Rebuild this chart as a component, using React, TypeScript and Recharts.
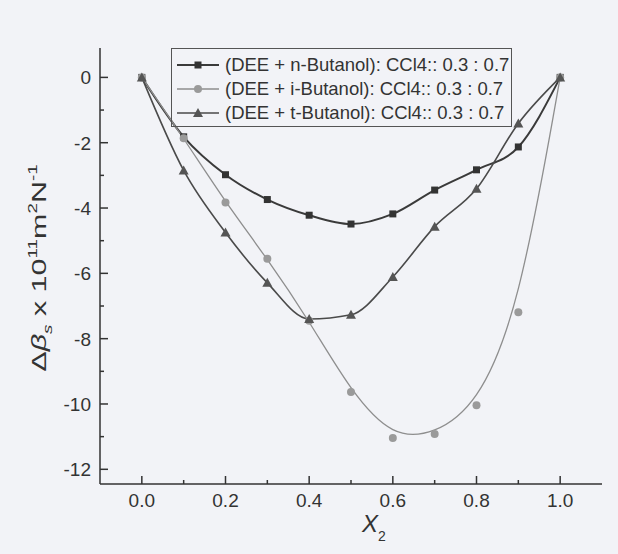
import { LineChart, Line, XAxis, YAxis, Legend } from "recharts";

const x2 = [0, 0.1, 0.2, 0.3, 0.4, 0.5, 0.6, 0.7, 0.8, 0.9, 1.0];
const nButanol = [0, -1.82, -2.98, -3.74, -4.22, -4.49, -4.18, -3.45, -2.83, -2.13, 0];
const iButanol = [0, -1.86, -3.83, -5.55, -7.45, -9.63, -11.04, -10.92, -10.04, -7.19, 0];
const tButanol = [0, -2.85, -4.75, -6.29, -7.4, -7.27, -6.11, -4.57, -3.41, -1.41, 0];

const xTicks = [0, 0.1, 0.2, 0.3, 0.4, 0.5, 0.6, 0.7, 0.8, 0.9, 1.0];
const yTicks = [0, -1, -2, -3, -4, -5, -6, -7, -8, -9, -10, -11, -12];
const legendLabel = ": CCl4:: 0.3 : 0.7";

const rows = x2.map((x, i) => ({ x, n: nButanol[i], i: iButanol[i], t: tButanol[i] }));

const ink = "#333";
const font = "'Liberation Sans', Arial, sans-serif";

const xMajor = (v: number) => Math.round(v * 10) % 2 === 0;
const yMajor = (v: number) => Math.round(v) % 2 === 0;

const BottomTick = ({ x, y, payload }: any) => {
  const major = xMajor(payload.value);
  return (
    <g>
      <line x1={x} x2={x} y1={y} y2={y - (major ? 8 : 4)} stroke={ink} strokeWidth={1.5} />
      {major && (
        <text x={x} y={y + 23} textAnchor="middle" fontSize={19} fill={ink} fontFamily={font}>
          {payload.value.toFixed(1)}
        </text>
      )}
    </g>
  );
};

const TopTick = ({ x, y, payload }: any) => (
  <line x1={x} x2={x} y1={y} y2={y + (xMajor(payload.value) ? 8 : 4)} stroke={ink} strokeWidth={1.5} />
);

const LeftTick = ({ x, y, payload }: any) => {
  const major = yMajor(payload.value);
  return (
    <g>
      <line x1={x} x2={x + (major ? 8 : 4)} y1={y} y2={y} stroke={ink} strokeWidth={1.5} />
      {major && (
        <text x={x - 9} y={y + 7} textAnchor="end" fontSize={19} fill={ink} fontFamily={font}>
          {String(payload.value)}
        </text>
      )}
    </g>
  );
};

const RightTick = ({ x, y, payload }: any) => (
  <line x1={x} x2={x - (yMajor(payload.value) ? 8 : 4)} y1={y} y2={y} stroke={ink} strokeWidth={1.5} />
);

const square = (fill: string) => (p: any) =>
  p.cx == null ? <g key={p.key} /> : <rect key={p.key} x={p.cx - 3.5} y={p.cy - 3.5} width={7} height={7} fill={fill} />;
const circle = (fill: string) => (p: any) =>
  p.cx == null ? <g key={p.key} /> : <circle key={p.key} cx={p.cx} cy={p.cy} r={4} fill={fill} />;
const triangle = (fill: string) => (p: any) =>
  p.cx == null ? (
    <g key={p.key} />
  ) : (
    <polygon key={p.key} points={`${p.cx},${p.cy - 5} ${p.cx - 5},${p.cy + 4} ${p.cx + 5},${p.cy + 4}`} fill={fill} />
  );

const series = [
  { key: "n", name: "(DEE + n-Butanol)", line: "#3a3a3a", mark: "#333", width: 2, type: "monotone", dot: square("#333"), shape: "square" },
  { key: "i", name: "(DEE + i-Butanol)", line: "#8e8e8e", mark: "#9a9a9a", width: 1.3, type: "basis", dot: circle("#9a9a9a"), shape: "circle" },
  { key: "t", name: "(DEE + t-Butanol)", line: "#4a4a4a", mark: "#555", width: 1.6, type: "monotone", dot: triangle("#555"), shape: "triangle" },
];

const LegendBox = () => (
  <div
    style={{
      border: "1px solid #555",
      width: 341,
      height: 79,
      paddingTop: 4,
      boxSizing: "border-box",
      fontFamily: font,
      fontSize: 18.5,
      color: ink,
    }}
  >
    {series.map((s) => (
      <div key={s.key} style={{ height: 24, display: "flex", alignItems: "center" }}>
        <svg width={53} height={24}>
          <line x1={5} x2={47} y1={12} y2={12} stroke={s.line} strokeWidth={s.width} />
          {s.shape === "square" && <rect x={22.5} y={8.5} width={7} height={7} fill={s.mark} />}
          {s.shape === "circle" && <circle cx={26} cy={12} r={4} fill={s.mark} />}
          {s.shape === "triangle" && <polygon points="26,7 21,16 31,16" fill={s.mark} />}
        </svg>
        <span style={{ whiteSpace: "nowrap" }}>
          {s.name}
          {legendLabel}
        </span>
      </div>
    ))}
  </div>
);

const YTitle = () => (
  <text
    transform="translate(46,268) rotate(-90) scale(1.45,1)"
    textAnchor="middle"
    fontSize={21}
    fill={ink}
    fontFamily={font}
  >
    Δ<tspan fontStyle="italic">β</tspan>
    <tspan fontSize={13} fontStyle="italic" dy={6}>s</tspan>
    <tspan dy={-6}> x 10</tspan>
    <tspan fontSize={13} dy={-9}>11</tspan>
    <tspan dy={9}>m</tspan>
    <tspan fontSize={13} dy={-9}>2</tspan>
    <tspan dy={9}>N</tspan>
    <tspan fontSize={13} dy={-9}>-1</tspan>
  </text>
);

const XTitle = () => (
  <text x={362} y={532} fontSize={24} fill={ink} fontFamily={font}>
    <tspan fontStyle="italic">X</tspan>
    <tspan fontSize={14} dy={9}>2</tspan>
  </text>
);

export default function App() {
  return (
    <div style={{ position: "absolute", left: 0, top: 0, width: 618, height: 554, background: "#f2f3f7" }}>
      <LineChart
        width={618}
        height={554}
        data={rows}
        margin={{ top: 48, right: 16, bottom: 0, left: 0 }}
        style={{ fontFamily: font }}
      >
        <XAxis
          dataKey="x"
          type="number"
          domain={[-0.1, 1.1]}
          ticks={xTicks}
          interval={0}
          height={70}
          tickSize={0}
          tickMargin={0}
          tickLine={false}
          axisLine={{ stroke: ink, strokeWidth: 1.5 }}
          tick={BottomTick}
          label={{ content: () => <XTitle /> }}
        />
        <XAxis
          xAxisId="top"
          orientation="top"
          type="number"
          domain={[-0.1, 1.1]}
          ticks={xTicks}
          interval={0}
          height={0}
          tickSize={0}
          tickMargin={0}
          tickLine={false}
          axisLine={{ stroke: ink, strokeWidth: 1.5 }}
          tick={TopTick}
        />
        <YAxis
          type="number"
          domain={[-12.45, 0.9]}
          ticks={yTicks}
          interval={0}
          width={100}
          tickSize={0}
          tickMargin={0}
          tickLine={false}
          axisLine={{ stroke: ink, strokeWidth: 1.5 }}
          tick={LeftTick}
          label={{ content: () => <YTitle /> }}
        />
        <YAxis
          yAxisId="right"
          orientation="right"
          type="number"
          domain={[-12.45, 0.9]}
          ticks={yTicks}
          interval={0}
          width={0}
          tickSize={0}
          tickMargin={0}
          tickLine={false}
          axisLine={{ stroke: ink, strokeWidth: 1.5 }}
          tick={RightTick}
        />
        <Legend
          layout="horizontal"
          verticalAlign="middle"
          align="center"
          content={() => <LegendBox />}
          wrapperStyle={{ position: "absolute", left: 171, top: 48, width: 341, height: 79 }}
        />
        {series.map((s) => (
          <Line
            key={s.key}
            dataKey={s.key}
            name={s.name}
            type={s.type as any}
            stroke={s.line}
            strokeWidth={s.width}
            dot={s.dot}
            activeDot={false}
            isAnimationActive={false}
          />
        ))}
      </LineChart>
    </div>
  );
}
